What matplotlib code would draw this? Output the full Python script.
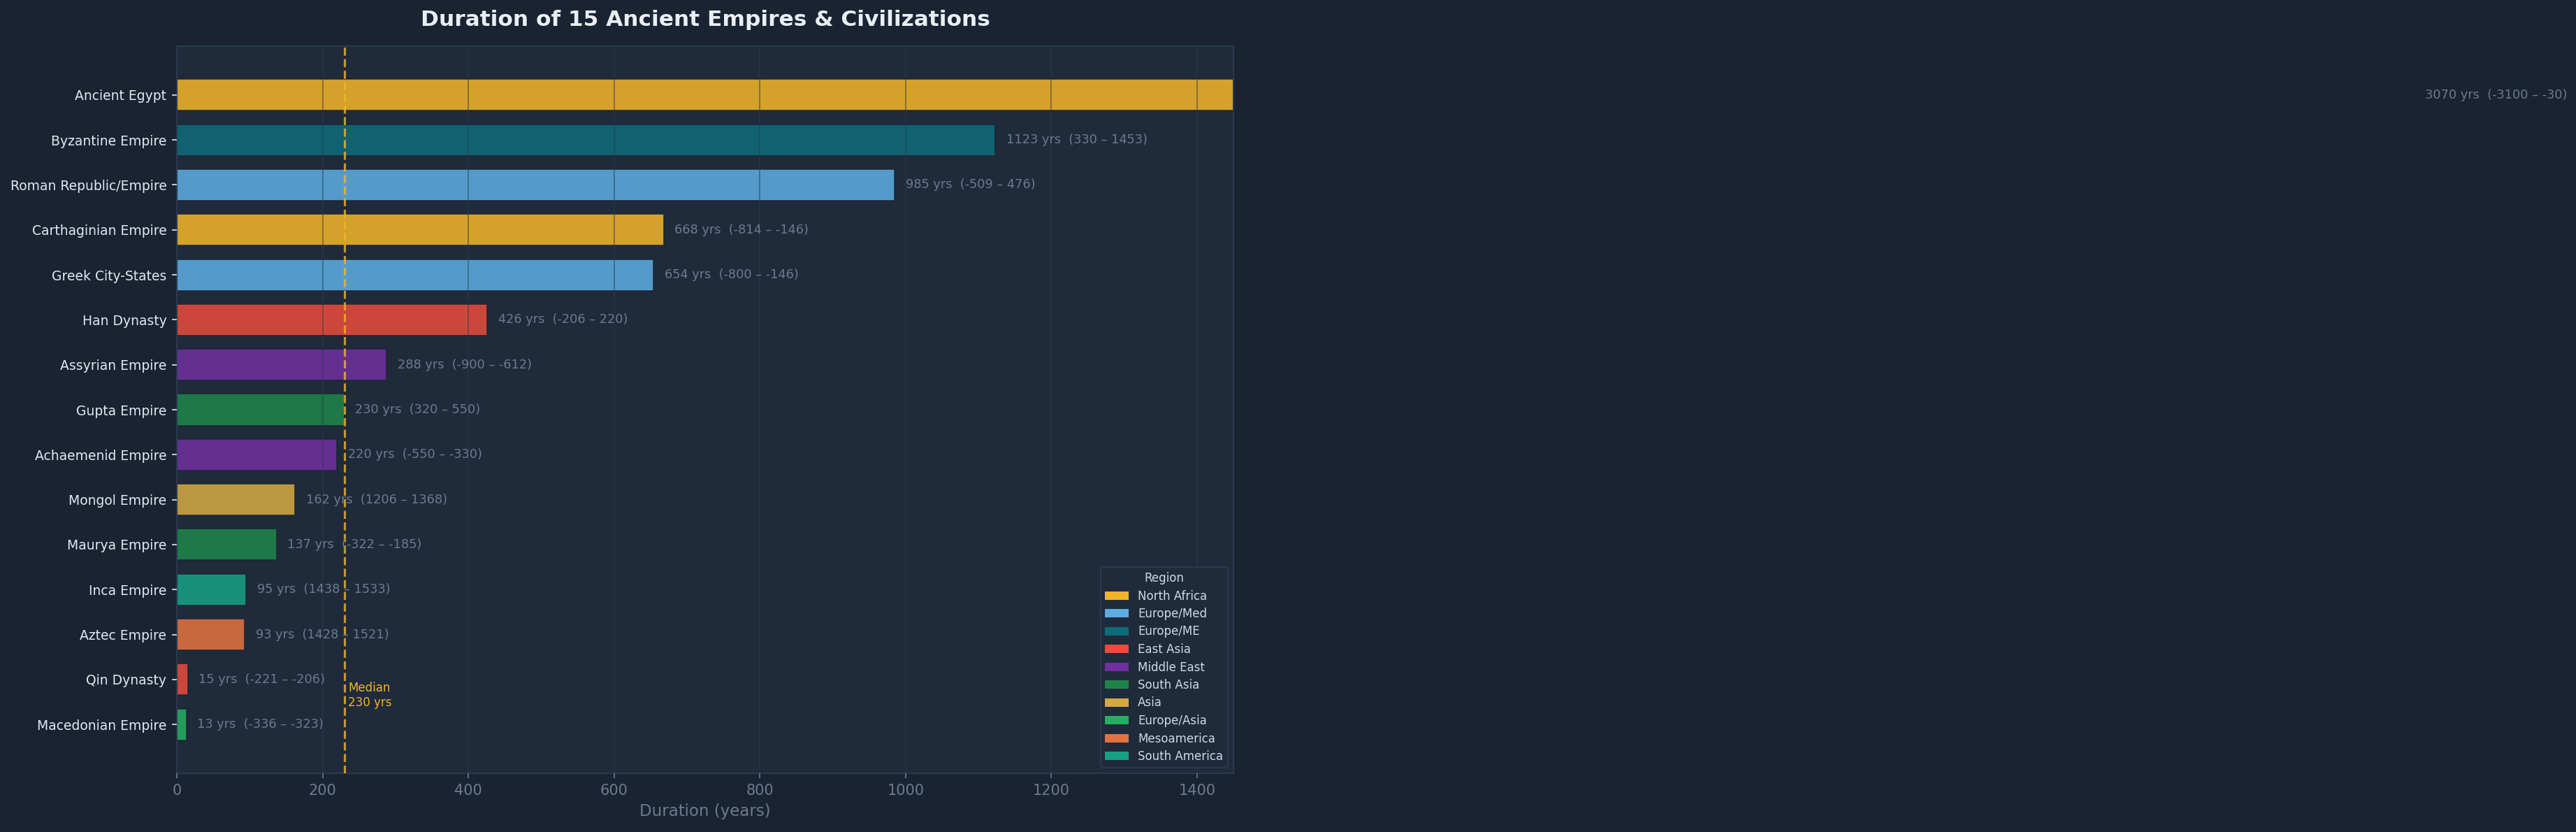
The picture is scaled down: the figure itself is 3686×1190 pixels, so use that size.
import matplotlib

matplotlib.use("Agg")
import matplotlib.pyplot as plt
import numpy as np
from matplotlib.patches import Patch

# --- data -------------------------------------------------------------
EMPIRES = [
    "Ancient Egypt",
    "Byzantine Empire",
    "Roman Republic/Empire",
    "Carthaginian Empire",
    "Greek City-States",
    "Han Dynasty",
    "Assyrian Empire",
    "Gupta Empire",
    "Achaemenid Empire",
    "Mongol Empire",
    "Maurya Empire",
    "Inca Empire",
    "Aztec Empire",
    "Qin Dynasty",
    "Macedonian Empire",
]
START_YEARS = [-3100, 330, -509, -814, -800, -206, -900, 320, -550, 1206, -322, 1438, 1428, -221, -336]
END_YEARS = [-30, 1453, 476, -146, -146, 220, -612, 550, -330, 1368, -185, 1533, 1521, -206, -323]
EMPIRE_REGIONS = [
    "North Africa",
    "Europe/ME",
    "Europe/Med",
    "North Africa",
    "Europe/Med",
    "East Asia",
    "Middle East",
    "South Asia",
    "Middle East",
    "Asia",
    "South Asia",
    "South America",
    "Mesoamerica",
    "East Asia",
    "Europe/Asia",
]
REGIONS = [
    "North Africa", "Europe/Med", "Europe/ME", "East Asia", "Middle East",
    "South Asia", "Asia", "Europe/Asia", "Mesoamerica", "South America",
]
REGION_COLORS = [
    "#F0B429", "#5DADE2", "#0E6B7A", "#E74C3C", "#7030A0",
    "#1E8449", "#D4A843", "#27AE60", "#E07340", "#16A085",
]

# --- style ------------------------------------------------------------
FIG_BG = "#1A2332"
AX_BG = "#1F2B3B"
SPINE = "#2A3A4E"
MUTED = "#6B7B8F"
LIGHT = "#E2E8F0"
GOLD = "#F0B429"


def main() -> None:
    durations = np.array(END_YEARS) - np.array(START_YEARS)
    color_of = dict(zip(REGIONS, REGION_COLORS))
    colors = [color_of[r] for r in EMPIRE_REGIONS]
    median = float(np.median(durations))
    y = np.arange(len(EMPIRES))

    fig = plt.figure(figsize=(3687 / 150, 1190 / 150), dpi=150, facecolor=FIG_BG)
    ax = fig.add_axes([253 / 3687, 1 - 1106 / 1190, (1765 - 253) / 3687, (1106 - 66) / 1190])
    ax.set_facecolor(AX_BG)

    ax.barh(y, durations, height=0.7, color=colors, alpha=0.87,
            edgecolor=FIG_BG, linewidth=0.8, zorder=2)

    for yi, dur, s, e in zip(y, durations, START_YEARS, END_YEARS):
        ax.text(dur + 15, yi, f"{dur} yrs  ({s} \u2013 {e})", va="center", ha="left",
                fontsize=8.5, color=MUTED, zorder=5)

    ax.axvline(median, color=GOLD, linestyle="--", linewidth=1.5, alpha=0.8, zorder=4)
    ax.text(median + 5, 13.35, f"Median\n{median:.0f} yrs", color=GOLD, fontsize=8,
            va="center", ha="left", zorder=5)

    ax.set_yticks(y)
    ax.set_yticklabels(EMPIRES, fontsize=9, color=LIGHT)
    ax.invert_yaxis()
    ax.set_xlim(0, 1450)
    ax.tick_params(axis="y", colors=LIGHT, labelsize=9)
    ax.tick_params(axis="x", colors=MUTED, labelsize=10)
    ax.set_xlabel("Duration (years)", color=MUTED, fontsize=11)
    ax.set_title("Duration of 15 Ancient Empires & Civilizations", color="#E8EEF4",
                 fontsize=15, fontweight="bold", pad=14)

    # grid sits over the bars, faint
    ax.grid(axis="x", color="#2A3A4E", linewidth=0.9, alpha=0.5, zorder=3)
    ax.set_axisbelow(False)
    for spine in ax.spines.values():
        spine.set_color(SPINE)
        spine.set_linewidth(1.0)

    handles = [Patch(facecolor=c, label=r) for r, c in zip(REGIONS, REGION_COLORS)]
    leg = ax.legend(handles=handles, title="Region", loc="lower right", fontsize=8,
                    title_fontsize=8, labelspacing=0.45, facecolor=AX_BG,
                    edgecolor=SPINE, framealpha=1.0)
    leg.set_zorder(6)
    for t in leg.get_texts():
        t.set_color("#D0D8E2")
    leg.get_title().set_color("#D0D8E2")

    fig.savefig("out.png", dpi=150, facecolor=FIG_BG)
    plt.close(fig)


if __name__ == "__main__":
    main()
